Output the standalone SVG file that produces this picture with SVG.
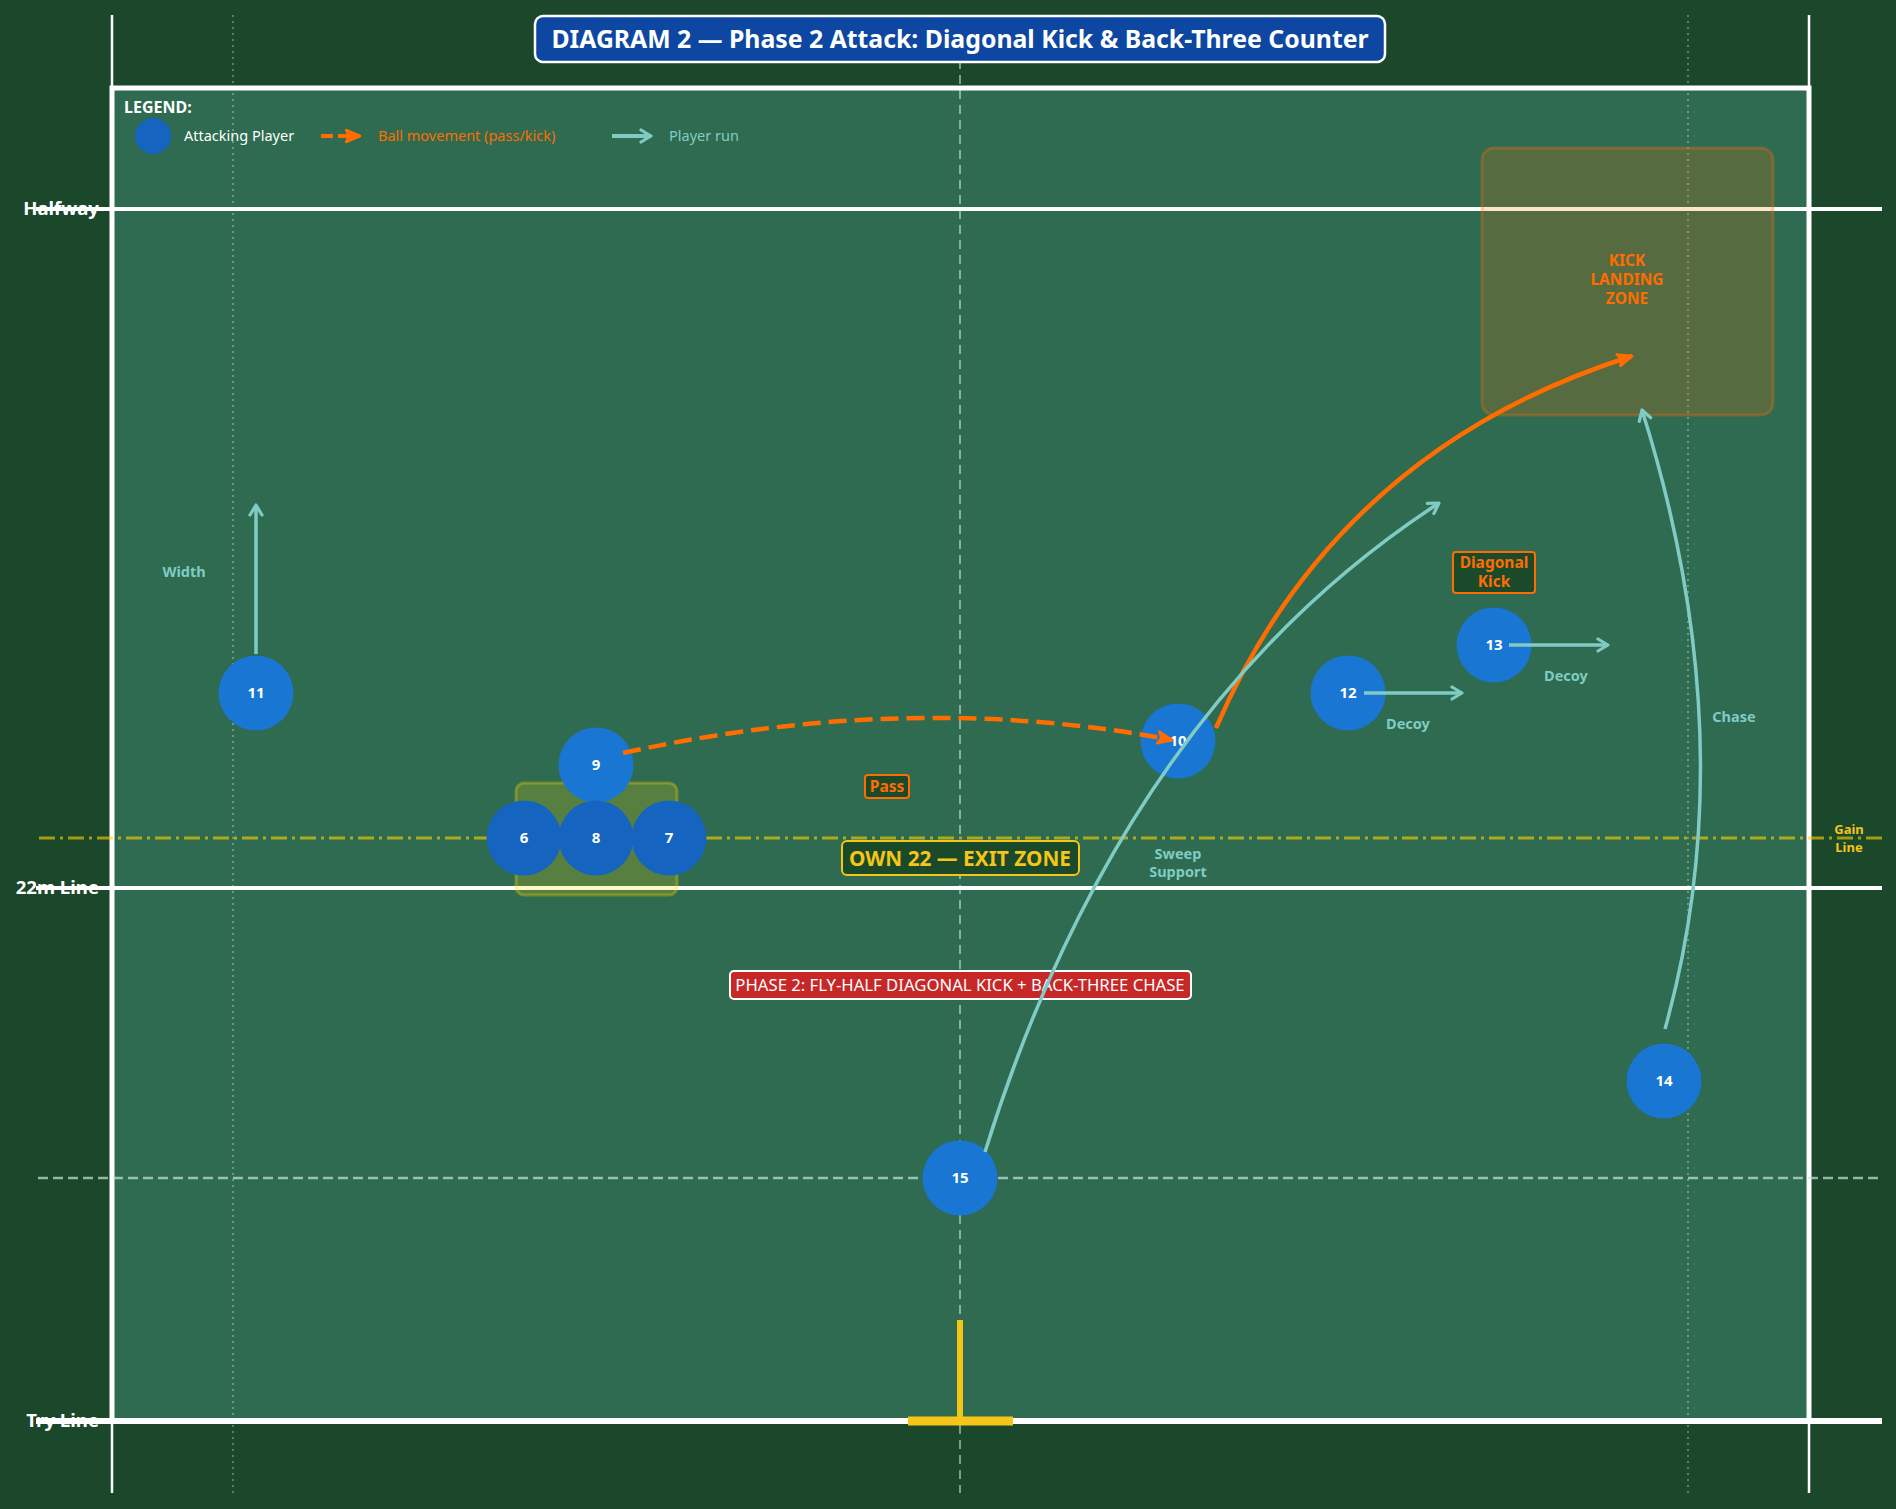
<svg xmlns="http://www.w3.org/2000/svg" width="1896" height="1509" viewBox="0 0 1896 1509">
<style>
text{font-family:"Noto Sans","DejaVu Sans",sans-serif}
.lbl{font-weight:bold;fill:#fff;font-size:18.6px;text-anchor:end}
.num{font-weight:bold;fill:#fff;font-size:15px;text-anchor:middle}
.back{fill:#1976d2}
.fwd{fill:#1565c0}
.run{fill:none;stroke:#80cbc4;stroke-width:3.5;marker-end:url(#tealHead)}
.ball{fill:none;stroke:#ff6d00;stroke-width:4.5;marker-end:url(#orangeHead)}
.teal{font-weight:bold;fill:#80cbc4;font-size:14.5px;text-anchor:middle}
.orng{font-weight:bold;fill:#ff6d00;font-size:15.5px;text-anchor:middle}
.tag{fill:#1b4a2b;stroke:#ff6d00;stroke-width:2}
.leg{font-size:14.5px}
</style>
<defs>
<marker id="tealHead" viewBox="-2 -2 16 16" markerWidth="16" markerHeight="16" refX="11" refY="6" orient="auto" markerUnits="userSpaceOnUse">
<path d="M1,0 L11,6 L1,12" fill="none" stroke="#80cbc4" stroke-width="3.2" stroke-linecap="round" stroke-linejoin="round"/>
</marker>
<marker id="orangeHead" viewBox="-2 -2 20 18" markerWidth="20" markerHeight="18" refX="15" refY="7" orient="auto" markerUnits="userSpaceOnUse">
<path d="M1,1 L15,7 L1,13 L4,7 Z" fill="#ff6d00" stroke="#ff6d00" stroke-width="2.5" stroke-linejoin="round"/>
</marker>
</defs>
<rect x="0" y="0" width="1896" height="1509" fill="#1b472b"/>
<g id="pitch">
<rect x="112" y="88" width="1697" height="1333" fill="#2e6b50" stroke="#fff" stroke-width="5"/>
<line x1="112" y1="15" x2="112" y2="1493" stroke="#fff" stroke-width="2.5"/>
<line x1="1809" y1="15" x2="1809" y2="1493" stroke="#fff" stroke-width="2.5"/>
<line x1="233" y1="15" x2="233" y2="1493" stroke="#ffffff" stroke-opacity="0.4" stroke-width="1.5" stroke-dasharray="2,4"/>
<line x1="1688" y1="15" x2="1688" y2="1493" stroke="#ffffff" stroke-opacity="0.4" stroke-width="1.5" stroke-dasharray="2,4"/>
<line x1="960" y1="15" x2="960" y2="1493" stroke="#ffffff" stroke-opacity="0.5" stroke-width="1.8" stroke-dasharray="9,6"/>
<line x1="38" y1="1178" x2="1882" y2="1178" stroke="#d0e4d8" stroke-opacity="0.7" stroke-width="2.5" stroke-dasharray="10,5"/>
<line x1="36" y1="209" x2="1882" y2="209" stroke="#fff" stroke-width="4"/>
<line x1="36" y1="888" x2="1882" y2="888" stroke="#fff" stroke-width="4"/>
<line x1="36" y1="1421" x2="1882" y2="1421" stroke="#fff" stroke-width="6"/>
<line x1="39" y1="838" x2="1882" y2="838" stroke="#ffd600" stroke-opacity="0.6" stroke-width="3" stroke-dasharray="16,5,3,5"/>
<line x1="960" y1="1320" x2="960" y2="1420" stroke="#f5c518" stroke-width="6"/>
<line x1="908" y1="1421" x2="1013" y2="1421" stroke="#f5c518" stroke-width="9"/>
<text class="lbl" x="99" y="215">Halfway</text>
<text class="lbl" x="99" y="894">22m Line</text>
<text class="lbl" x="99" y="1427">Try Line</text>
<text x="1849" y="834" font-size="13" font-weight="bold" fill="#f5c518" text-anchor="middle">Gain</text>
<text x="1849" y="852" font-size="13" font-weight="bold" fill="#f5c518" text-anchor="middle">Line</text>
</g>
<g id="kick-zone">
<rect x="1482" y="148" width="291" height="267" rx="12" fill="#ff6d00" fill-opacity="0.2" stroke="#ff6d00" stroke-opacity="0.3" stroke-width="3"/>
<text class="orng" x="1627" y="266">KICK</text>
<text class="orng" x="1627" y="285">LANDING</text>
<text class="orng" x="1627" y="304">ZONE</text>
</g>
<g id="pod-box">
<rect x="516" y="783" width="161" height="112" rx="8" fill="#ffd600" fill-opacity="0.2" stroke="#ffd600" stroke-opacity="0.3" stroke-width="3"/>
</g>
<g id="title">
<rect x="535" y="16" width="850" height="46" rx="8" fill="#0d47a1" stroke="#fff" stroke-width="2.5"/>
<text x="960" y="47.5" font-size="24.8" font-weight="bold" fill="#fff" text-anchor="middle">DIAGRAM 2 — Phase 2 Attack: Diagonal Kick &amp; Back-Three Counter</text>
</g>
<g id="legend">
<text x="124" y="112.5" font-size="16" font-weight="bold" fill="#fff">LEGEND:</text>
<circle cx="153" cy="136" r="18" class="fwd"/>
<text class="leg" x="184" y="141" fill="#fff">Attacking Player</text>
<line x1="321" y1="136" x2="360" y2="136" stroke="#ff6d00" stroke-width="4" stroke-dasharray="12,5" marker-end="url(#orangeHead)"/>
<text class="leg" x="378" y="141" fill="#ff6d00">Ball movement (pass/kick)</text>
<line x1="612" y1="136" x2="651" y2="136" stroke="#80cbc4" stroke-width="4" marker-end="url(#tealHead)"/>
<text class="leg" x="669" y="141" fill="#80cbc4">Player run</text>
</g>
<g id="label-pass">
<rect class="tag" x="865" y="775" width="44" height="23" rx="3"/>
<text class="orng" x="887" y="792">Pass</text>
</g>
<g id="label-diagonal-kick">
<rect class="tag" x="1453" y="552" width="82" height="41" rx="3"/>
<text class="orng" x="1494" y="568" font-size="15.5">Diagonal</text>
<text class="orng" x="1494" y="587" font-size="15.5">Kick</text>
</g>
<g id="label-exit-zone">
<rect x="842" y="841" width="237" height="34" rx="5" fill="#1b4a2b" stroke="#f5c518" stroke-width="2"/>
<text x="960" y="865.5" font-size="20.8" font-weight="bold" fill="#f5c518" text-anchor="middle">OWN 22 — EXIT ZONE</text>
</g>
<g id="label-phase">
<rect x="730" y="971" width="461" height="28" rx="4" fill="#c62828" stroke="#fff" stroke-width="2"/>
<text x="960" y="990.5" font-size="16.7" fill="#fff" text-anchor="middle">PHASE 2: FLY-HALF DIAGONAL KICK + BACK-THREE CHASE</text>
</g>
<g id="run-labels">
<text class="teal" x="184" y="577">Width</text>
<text class="teal" x="1408" y="729">Decoy</text>
<text class="teal" x="1566" y="681">Decoy</text>
<text class="teal" x="1734" y="722">Chase</text>
<text class="teal" x="1178" y="859" font-size="13.5">Sweep</text>
<text class="teal" x="1178" y="877" font-size="13.5">Support</text>
</g>
<g id="player-11"><circle cx="256" cy="693" r="37.5" class="back"/><text class="num" x="256" y="698">11</text></g>
<g id="player-9"><circle cx="596" cy="765" r="37.5" class="back"/><text class="num" x="596" y="770">9</text></g>
<g id="player-6"><circle cx="524" cy="838" r="37.5" class="fwd"/><text class="num" x="524" y="843">6</text></g>
<g id="player-8"><circle cx="596" cy="838" r="37.5" class="fwd"/><text class="num" x="596" y="843">8</text></g>
<g id="player-7"><circle cx="669" cy="838" r="37.5" class="fwd"/><text class="num" x="669" y="843">7</text></g>
<g id="player-10"><circle cx="1178" cy="741" r="37.5" class="back"/><text class="num" x="1178" y="746">10</text></g>
<g id="player-12"><circle cx="1348" cy="693" r="37.5" class="back"/><text class="num" x="1348" y="698">12</text></g>
<g id="player-13"><circle cx="1494" cy="645" r="37.5" class="back"/><text class="num" x="1494" y="650">13</text></g>
<g id="player-14"><circle cx="1664" cy="1081" r="37.5" class="back"/><text class="num" x="1664" y="1086">14</text></g>
<g id="player-15"><circle cx="960" cy="1178" r="37.5" class="back"/><text class="num" x="960" y="1183">15</text></g>
<g id="connectors">
<path class="ball" d="M623,753 Q910,690 1172,740" stroke-dasharray="18,8"/>
<path class="ball" d="M1216,728 Q1336,450 1632,356"/>
<path class="run" d="M256,654 L256,505"/>
<path class="run" d="M1364,693 L1462,693"/>
<path class="run" d="M1509,645 L1608,645"/>
<path class="run" d="M1665,1029 Q1746,740 1642,410"/>
<path class="run" d="M985,1152 Q1122,710 1439,503"/>
</g>
</svg>
